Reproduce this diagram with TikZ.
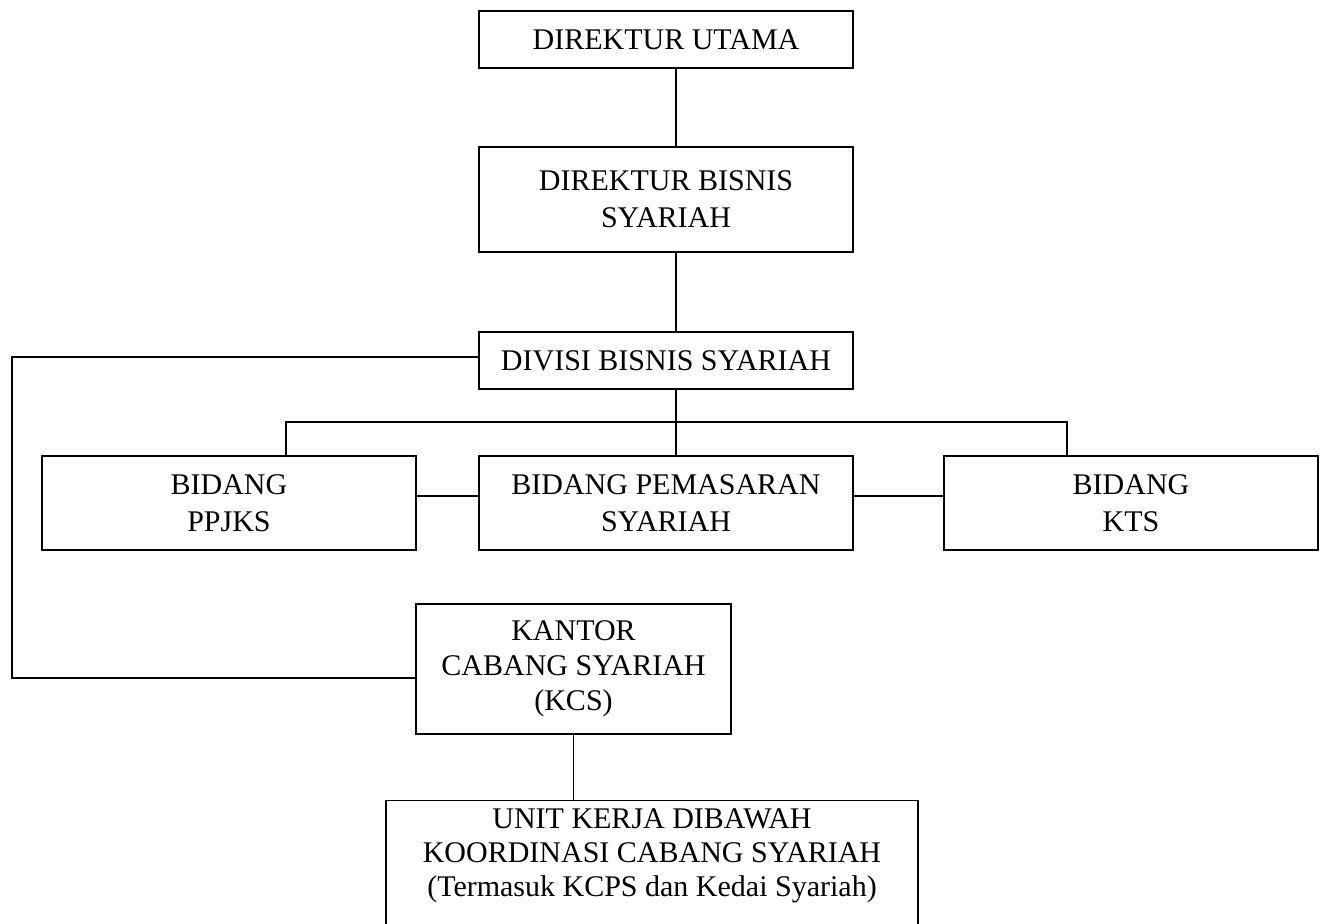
\documentclass[tikz,border=0pt]{standalone}
\usepackage{fontspec}
\setmainfont{Liberation Serif}
\usepackage{tikz}

\begin{document}
\begin{tikzpicture}[x=0.5pt, y=-0.5pt]
\tikzset{kotak/.style={draw, line width=0.6pt, inner sep=0pt, align=center,
  font=\fontsize{15}{18.5}\selectfont}}
\useasboundingbox (0, 0) rectangle (1320, 923);
\clip (0, 0) rectangle (1320, 923);
\node[kotak, minimum width=187pt, minimum height=28.5pt] (DirUtama) at (666, 39.5) {DIREKTUR UTAMA};
\node[kotak, minimum width=187pt, minimum height=52.5pt] (DirBisnis) at (666, 199.5) {DIREKTUR BISNIS\\SYARIAH};
\node[kotak, minimum width=187pt, minimum height=28.5pt] (Divisi) at (666, 360.5) {DIVISI BISNIS SYARIAH};
\node[kotak, minimum width=187pt, minimum height=47pt] (Ppjks) at (229, 503) {BIDANG\\PPJKS};
\node[kotak, minimum width=187pt, minimum height=47pt] (Pemasaran) at (666, 503) {BIDANG PEMASARAN\\SYARIAH};
\node[kotak, minimum width=187pt, minimum height=47pt] (Kts) at (1131, 503) {BIDANG\\KTS};
\node[kotak, minimum width=157.5pt, minimum height=65pt, font=\fontsize{15}{17.5}\selectfont] (Kcs) at (573.5, 669) {KANTOR\\CABANG SYARIAH\\(KCS)};
\node[kotak, minimum width=266pt, minimum height=100pt, anchor=north] (UnitKotak) at (652, 800) {};
\node[align=center, inner sep=0pt, font=\fontsize{15}{17}\selectfont] (Unit) at (652, 856) {UNIT KERJA DIBAWAH\\KOORDINASI CABANG SYARIAH\\(Termasuk KCPS dan Kedai Syariah)};
\coordinate (Tengah) at (676, 0);
\coordinate (KiriAtas) at (12, 357);
\coordinate (KiriBawah) at (12, 678);
\coordinate (CabangKiri) at (286, 422);
\coordinate (CabangKanan) at (1067, 422);
\coordinate (Samping) at (0, 496);
\begin{scope}[line width=0.6pt]
\draw (DirUtama.south -| Tengah) -- (DirBisnis.north -| Tengah);
\draw (DirBisnis.south -| Tengah) -- (Divisi.north -| Tengah);
\draw (Divisi.south -| Tengah) -- (Pemasaran.north -| Tengah);
\draw (Ppjks.north -| CabangKiri) -- (CabangKiri) -- (CabangKanan) -- (Kts.north -| CabangKanan);
\draw (Ppjks.east |- Samping) -- (Pemasaran.west |- Samping);
\draw (Pemasaran.east |- Samping) -- (Kts.west |- Samping);
\draw (Divisi.west |- KiriAtas) -- (KiriAtas) -- (KiriBawah) -- (Kcs.west |- KiriBawah);
\draw (Kcs.south) -- (Kcs.south |- UnitKotak.north);
\end{scope}
\end{tikzpicture}
\end{document}
